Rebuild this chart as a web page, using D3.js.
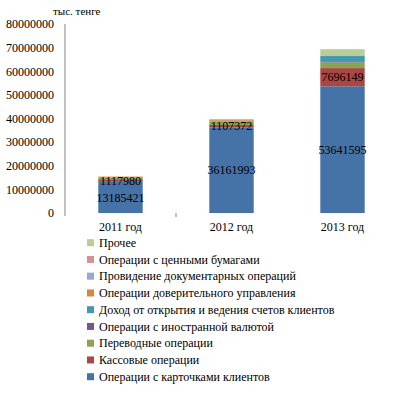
<!DOCTYPE html>
<html><head><meta charset="utf-8">
<script src="https://cdn.jsdelivr.net/npm/d3@7"></script>
<style>body{margin:0;background:#fff}svg{display:block}</style>
</head><body><div id="chart"></div>
<script>
const categories = ["2011 год", "2012 год", "2013 год"];
const seriesNames = [
  "Операции с карточками клиентов",
  "Кассовые операции",
  "Переводные операции",
  "Операции с иностранной валютой",
  "Доход от открытия и ведения счетов клиентов",
  "Операции доверительного управления",
  "Провидение документарных операций",
  "Операции с ценными бумагами",
  "Прочее"
];
const cards = [13185421, 36161993, 53641595];
const cash = [1117980, 1107372, 7696149];
const transfers = [500000, 1400000, 2400000];
const forex = [60000, 100000, 200000];
const accounts = [100000, 300000, 2500000];
const trust = [450000, 550000, 0];
const documentary = [0, 0, 0];
const securities = [0, 0, 0];
const other = [0, 0, 2900000];
const yTicks = [0, 10000000, 20000000, 30000000, 40000000, 50000000, 60000000, 70000000, 80000000];
const colors = ["#4572A7", "#AA4643", "#89A54E", "#71588F", "#4198AF", "#DB843D", "#93A9CF", "#D19392", "#B9CD96"];
const labeledSeries = [0, 1];

const FONT = "'Liberation Serif', 'Times New Roman', Tinos, 'DejaVu Serif', serif";
const values = [cards, cash, transfers, forex, accounts, trust, documentary, securities, other];
const rows = categories.map((c, i) => {
  const r = {cat: c};
  seriesNames.forEach((s, k) => r[s] = values[k][i]);
  return r;
});
const stacked = d3.stack().keys(seriesNames)(rows);

const W = 408, H = 393;
const svg = d3.select("#chart").append("svg").attr("width", W).attr("height", H)
  .style("font-family", FONT);

const x = d3.scaleBand().domain(categories).range([65, 398]).paddingInner(0.6).paddingOuter(0.3);
const y = d3.scaleLinear().domain([0, 80000000]).range([213, 24]);

// y axis
const yAxis = svg.append("g").attr("transform", "translate(65,0)")
  .call(d3.axisLeft(y).tickValues(yTicks).tickFormat(d3.format("d")).tickSize(0).tickPadding(11));
yAxis.attr("font-family", null).style("font-family", FONT);
yAxis.select(".domain").attr("stroke", "#868686").attr("d", "M0,24V216");
yAxis.selectAll("text").attr("font-size", 12).attr("fill", "#000").style("font-family", FONT);

// category tick
svg.append("line").attr("x1", x.step() + 65).attr("x2", x.step() + 65).attr("y1", 213).attr("y2", 217).attr("stroke", "#868686");

// units label
svg.append("text").attr("x", 53).attr("y", 15).attr("font-size", 11).attr("fill", "#000").text("тыс. тенге");

// bars
const g = svg.append("g");
stacked.forEach((layer, k) => {
  g.selectAll(null).data(layer).enter().append("rect")
    .attr("x", d => x(d.data.cat))
    .attr("width", x.bandwidth())
    .attr("y", d => y(d[1]))
    .attr("height", d => y(d[0]) - y(d[1]))
    .attr("fill", colors[k]);
});
labeledSeries.forEach(k => {
  g.selectAll(null).data(stacked[k]).enter().append("text")
    .attr("x", d => x(d.data.cat) + x.bandwidth() / 2)
    .attr("y", d => (y(d[0]) + y(d[1])) / 2)
    .attr("dy", "0.35em")
    .attr("text-anchor", "middle")
    .attr("font-size", 12)
    .attr("fill", "#000")
    .text(d => d[1] - d[0]);
});

// category labels
svg.selectAll(null).data(categories).enter().append("text")
  .attr("x", d => x(d) + x.bandwidth() / 2)
  .attr("y", 231)
  .attr("text-anchor", "middle")
  .attr("font-size", 12)
  .text(d => d);

// legend (reversed order)
const legendItems = seriesNames.map((s, k) => ({s, c: colors[k]})).reverse();
const lg = svg.append("g");
const ly = d3.scalePoint().domain(legendItems.map(d => d.s)).range([242.7, 376.7]);
legendItems.forEach(d => {
  lg.append("rect").attr("x", 87).attr("y", ly(d.s) - 3.5).attr("width", 7).attr("height", 7).attr("fill", d.c);
  lg.append("text").attr("x", 99).attr("y", ly(d.s)).attr("dy", "0.35em").attr("font-size", 12).text(d.s);
});
</script></body></html>
